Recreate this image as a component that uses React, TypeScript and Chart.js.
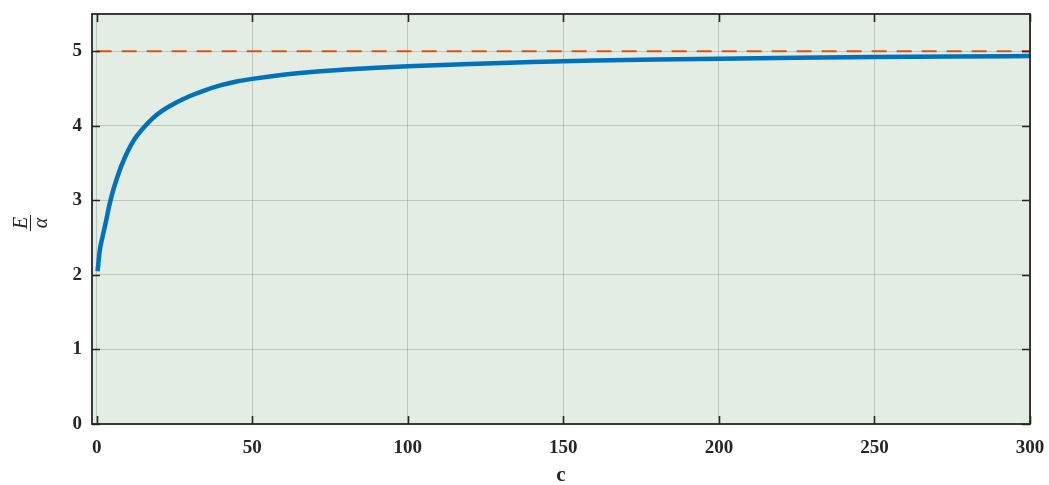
import React, { useEffect, useRef } from "react";
import { Chart, registerables } from "chart.js";

Chart.register(...registerables);

const cValues = [0.3, 1, 2, 3, 4, 5, 6, 8, 10, 12, 15, 18, 21, 25, 30, 35, 40, 45, 50, 60, 70, 80, 90, 100, 120, 140, 160, 180, 200, 225, 250, 275, 300];
const ratioValues = [2.05, 2.33, 2.53, 2.72, 2.92, 3.09, 3.23, 3.47, 3.66, 3.81, 3.97, 4.1, 4.2, 4.3, 4.4, 4.48, 4.545, 4.595, 4.63, 4.685, 4.725, 4.755, 4.78, 4.8, 4.83, 4.855, 4.875, 4.89, 4.9, 4.912, 4.922, 4.93, 4.935];
const limitC = [0, 300];
const limitValues = [5, 5];
const xTicks = [0, 50, 100, 150, 200, 250, 300];
const yTicks = [0, 1, 2, 3, 4, 5];
const xLabel = "c";
const yLabelTop = "E";
const yLabelBottom = "α";

const FONT = "'Liberation Serif', 'DejaVu Serif', serif";

const decorPlugin = {
  id: "decor",
  beforeDraw(chart: any) {
    const { ctx, chartArea: a } = chart;
    ctx.save();
    ctx.fillStyle = "#e3ede3";
    ctx.fillRect(a.left, a.top, a.right - a.left, a.bottom - a.top);
    ctx.restore();
  },
  afterDraw(chart: any) {
    const { ctx, chartArea: a, scales } = chart;
    ctx.save();
    ctx.strokeStyle = "#262626";
    ctx.lineWidth = 1.6;
    ctx.beginPath();
    for (const t of xTicks) {
      const x = Math.round(scales.x.getPixelForValue(t)) + 0.5;
      ctx.moveTo(x, a.bottom);
      ctx.lineTo(x, a.bottom - 8);
      ctx.moveTo(x, a.top);
      ctx.lineTo(x, a.top + 8);
    }
    for (const t of yTicks) {
      const y = Math.round(scales.y.getPixelForValue(t)) + 0.5;
      ctx.moveTo(a.left, y);
      ctx.lineTo(a.left + 8, y);
      ctx.moveTo(a.right, y);
      ctx.lineTo(a.right - 8, y);
    }
    ctx.stroke();
    ctx.lineWidth = 1.8;
    ctx.strokeRect(a.left, a.top, a.right - a.left, a.bottom - a.top);

    ctx.fillStyle = "#262626";
    ctx.font = `bold 21px ${FONT}`;
    ctx.textAlign = "center";
    ctx.textBaseline = "middle";
    ctx.fillText(xLabel, (a.left + a.right) / 2, 476);

    ctx.translate(31, 223);
    ctx.rotate(-Math.PI / 2);
    ctx.font = `italic 20px ${FONT}`;
    ctx.textBaseline = "alphabetic";
    ctx.fillText(yLabelTop, 0, -4);
    ctx.lineWidth = 1;
    ctx.beginPath();
    ctx.moveTo(-8, -0.5);
    ctx.lineTo(8, -0.5);
    ctx.stroke();
    ctx.fillText(yLabelBottom, 0, 16);
    ctx.restore();
  },
};

export default function App() {
  const ref = useRef<HTMLCanvasElement>(null);
  useEffect(() => {
    if (!ref.current) return;
    const chart = new Chart(ref.current, {
      type: "line",
      data: {
        datasets: [
          {
            data: limitC.map((c, i) => ({ x: c, y: limitValues[i] })),
            borderColor: "#d95319",
            borderWidth: 1.8,
            borderDash: [15, 10],
            pointRadius: 0,
            fill: false,
          },
          {
            data: cValues.map((c, i) => ({ x: c, y: ratioValues[i] })),
            borderColor: "#0072bd",
            borderWidth: 4.5,
            pointRadius: 0,
            cubicInterpolationMode: "monotone",
            fill: false,
          },
        ],
      },
      options: {
        animation: false,
        responsive: false,
        maintainAspectRatio: false,
        layout: { padding: { top: 14, right: 19, left: 0, bottom: 0 } },
        plugins: { legend: { display: false }, tooltip: { enabled: false } },
        scales: {
          x: {
            type: "linear",
            min: -1.5,
            max: 300,
            afterBuildTicks: (s: any) => {
              s.ticks = xTicks.map((v) => ({ value: v }));
            },
            afterFit: (s: any) => {
              s.height = 61;
              s.paddingLeft = 0;
              s.paddingRight = 0;
            },
            border: { display: false },
            grid: { color: "rgba(120,130,120,0.35)", lineWidth: 1, drawTicks: false },
            ticks: {
              padding: 13,
              color: "#262626",
              font: { family: FONT, size: 19, weight: "bold" },
            },
          },
          y: {
            type: "linear",
            min: 0,
            max: 5.5,
            afterBuildTicks: (s: any) => {
              s.ticks = yTicks.map((v) => ({ value: v }));
            },
            afterFit: (s: any) => {
              s.width = 92;
              s.paddingTop = 0;
              s.paddingBottom = 0;
            },
            border: { display: false },
            grid: { color: "rgba(120,130,120,0.35)", lineWidth: 1, drawTicks: false },
            ticks: {
              padding: 10,
              color: "#262626",
              font: { family: FONT, size: 19, weight: "bold" },
            },
          },
        },
      },
      plugins: [decorPlugin],
    } as any);
    return () => chart.destroy();
  }, []);
  return (
    <div style={{ position: "absolute", left: 0, top: 0, width: 1049, height: 485, background: "#fff" }}>
      <canvas ref={ref} width={1049} height={485} style={{ width: 1049, height: 485 }} />
    </div>
  );
}
